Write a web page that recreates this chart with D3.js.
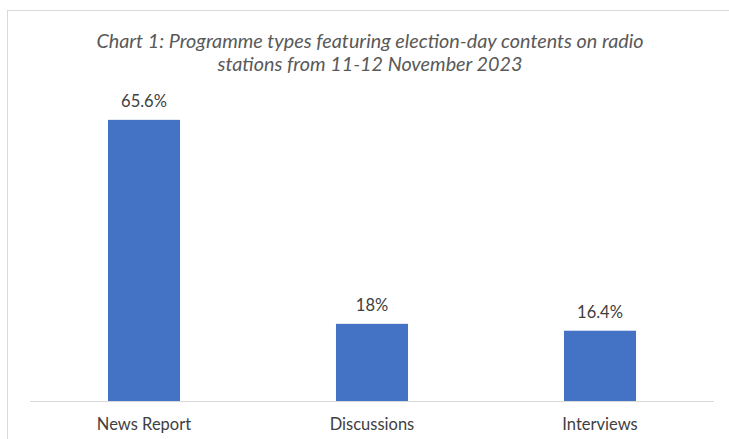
<!DOCTYPE html>
<html>
<head>
<meta charset="utf-8">
<script src="https://cdn.jsdelivr.net/npm/d3@7"></script>
<style>
  html, body { margin: 0; padding: 0; background: #fff; }
  svg { display: block; }
</style>
</head>
<body>
<svg id="chart" width="729" height="439"></svg>
<script>
// Programme types and their share of election-day content (%)
const categories = ["News Report", "Discussions", "Interviews"];
const values = [65.6, 18, 16.4];
const valueLabels = ["65.6%", "18%", "16.4%"];
const titleLines = [
  "Chart 1: Programme types featuring election-day contents on radio",
  "stations from 11-12 November 2023"
];

const W = 729, H = 439;
const svg = d3.select("#chart");
const font = "Lato, 'Open Sans', sans-serif";

// chart frame (extends past the visible area on the right and bottom)
svg.append("rect")
  .attr("x", 7.5).attr("y", 10.5)
  .attr("width", 740).attr("height", 460)
  .attr("fill", "#fff")
  .attr("stroke", "#d9d9d9").attr("stroke-width", 1);

const plot = { left: 30, right: 714, top: 101, bottom: 401 };

const x = d3.scaleBand()
  .domain(categories)
  .range([plot.left, plot.right])
  .paddingInner(0.684)
  .paddingOuter(0.342);

const y = d3.scaleLinear()
  .domain([0, 70])
  .range([plot.bottom, plot.top]);

// bars
svg.append("g").selectAll("rect")
  .data(values)
  .join("rect")
  .attr("x", (d, i) => x(categories[i]))
  .attr("y", d => y(d))
  .attr("width", x.bandwidth())
  .attr("height", d => y(0) - y(d))
  .attr("fill", "#4472c4");

// category axis
const xAxis = svg.append("g")
  .attr("transform", `translate(0,${plot.bottom})`)
  .call(d3.axisBottom(x).tickSize(0).tickPadding(0));
xAxis.select(".domain")
  .attr("stroke", "#d9d9d9").attr("stroke-width", 1.2)
  .attr("d", `M${plot.left},0.5H${plot.right}`);
xAxis.selectAll(".tick text")
  .attr("dy", null)
  .attr("y", 28.5)
  .attr("fill", "#404040")
  .style("font-family", font)
  .style("font-size", "16.5px");

// value labels above bars
svg.append("g").selectAll("text")
  .data(values)
  .join("text")
  .attr("x", (d, i) => x(categories[i]) + x.bandwidth() / 2)
  .attr("y", d => y(d) - 13)
  .attr("text-anchor", "middle")
  .attr("fill", "#404040")
  .style("font-family", font)
  .style("font-size", "16.5px")
  .text((d, i) => valueLabels[i]);

// title
svg.append("g").selectAll("text")
  .data(titleLines)
  .join("text")
  .attr("x", (plot.left + plot.right) / 2 - 2)
  .attr("y", (d, i) => 48 + i * 23)
  .attr("text-anchor", "middle")
  .attr("fill", "#595959")
  .style("font-family", font)
  .style("font-style", "italic")
  .style("font-size", "19.8px")
  .text(d => d);
</script>
</body>
</html>
